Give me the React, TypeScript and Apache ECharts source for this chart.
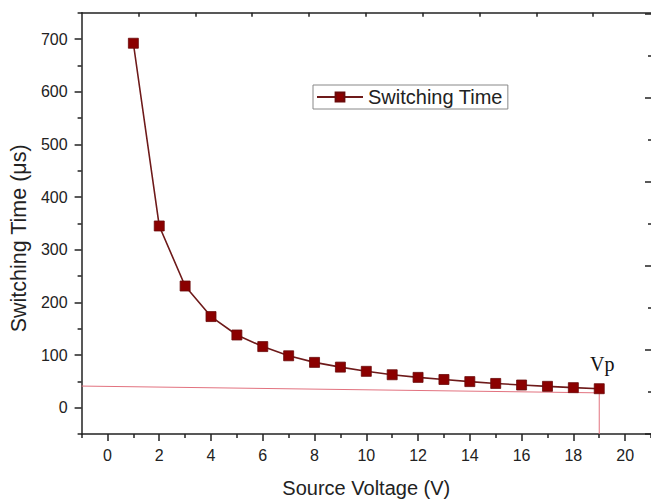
import React, { useEffect, useRef } from "react";
import * as echarts from "echarts";

const voltages = [1, 2, 3, 4, 5, 6, 7, 8, 9, 10, 11, 12, 13, 14, 15, 16, 17, 18, 19];
const switchingTimes = [692, 345, 231, 173, 138, 116, 98.5, 86, 77, 69, 62.5, 57.5, 53.5, 49.5, 46, 43, 40.5, 38, 36];
const refHorizontal = [[-1, 41], [19.2, 28]];
const refVertical = [[19, 28], [19, -50]];
const xMajorTicks = [0, 2, 4, 6, 8, 10, 12, 14, 16, 18, 20];
const xMinorTicks = [-1, 1, 3, 5, 7, 9, 11, 13, 15, 17, 19, 21];
const yMajorTicks = [0, 100, 200, 300, 400, 500, 600, 700];
const yMinorTicks = [-50, 50, 150, 250, 350, 450, 550, 650, 750];
const topTicks = [0, 1, 2, 3, 4, 5, 6, 7, 8];
const rightMajorTicks = [0, 2, 4, 6, 8, 10];
const rightMinorTicks = [1, 3, 5, 7, 9];

const FONT = "Liberation Sans, Arial, sans-serif";
const AXIS_COLOR = "#222";

export default function App() {
  const ref = useRef<HTMLDivElement>(null);
  useEffect(() => {
    if (!ref.current) return;
    const chart = echarts.init(ref.current, null, { renderer: "svg" });
    const hidden = { show: false };
    const data = voltages.map((v, i) => {
      const item: any = { value: [v, switchingTimes[i]] };
      if (i === voltages.length - 1) {
        item.label = {
          show: true,
          formatter: "Vp",
          position: "top",
          distance: 9,
          offset: [3, 0],
          fontFamily: "Liberation Serif, Times New Roman, serif",
          fontSize: 20,
          color: "#111",
        };
      }
      return item;
    });
    chart.setOption({
      animation: false,
      backgroundColor: "#fff",
      grid: { left: 78, right: -2, top: 12.7, bottom: 63, containLabel: false },
      legend: {
        data: ["Switching Time"],
        left: 313,
        top: 85,
        orient: "horizontal",
        itemWidth: 46,
        itemHeight: 11,
        padding: [2, 5, 2, 3],
        borderColor: "#888",
        borderWidth: 1,
        textStyle: { fontFamily: FONT, fontSize: 20, color: "#222" },
      },
      xAxis: [
        {
          type: "value",
          position: "bottom",
          min: -1,
          max: 21,
          name: "Source Voltage (V)",
          nameLocation: "middle",
          nameGap: 44,
          nameTextStyle: { fontFamily: FONT, fontSize: 20, color: "#222" },
          axisLine: { show: true, onZero: false, lineStyle: { color: AXIS_COLOR, width: 1.5 } },
          axisTick: { show: true, inside: false, length: 7, customValues: xMajorTicks, lineStyle: { color: AXIS_COLOR, width: 1.5 } },
          axisLabel: { show: true, customValues: xMajorTicks, margin: 13, fontFamily: FONT, fontSize: 16, color: "#222" },
          splitLine: hidden,
        },
        {
          type: "value",
          position: "bottom",
          min: -1,
          max: 21,
          axisLine: { show: false, onZero: false },
          axisTick: { show: true, inside: false, length: 4, customValues: xMinorTicks, lineStyle: { color: AXIS_COLOR, width: 1.5 } },
          axisLabel: hidden,
          splitLine: hidden,
        },
        {
          type: "value",
          position: "top",
          min: -1,
          max: 9.017,
          axisLine: { show: true, onZero: false, lineStyle: { color: AXIS_COLOR, width: 1.5 } },
          axisTick: { show: true, inside: true, length: 4, customValues: topTicks, lineStyle: { color: AXIS_COLOR, width: 1.5 } },
          axisLabel: hidden,
          splitLine: hidden,
        },
      ],
      yAxis: [
        {
          type: "value",
          position: "left",
          min: -50,
          max: 750,
          name: "Switching Time (μs)",
          nameLocation: "middle",
          nameGap: 50,
          nameTextStyle: { fontFamily: FONT, fontSize: 21.5, color: "#222", padding: [0, 30, 0, 0] },
          axisLine: { show: true, onZero: false, lineStyle: { color: AXIS_COLOR, width: 1.5 } },
          axisTick: { show: true, inside: false, length: 7, customValues: yMajorTicks, lineStyle: { color: AXIS_COLOR, width: 1.5 } },
          axisLabel: { show: true, customValues: yMajorTicks, margin: 14, fontFamily: FONT, fontSize: 16, color: "#222" },
          splitLine: hidden,
        },
        {
          type: "value",
          position: "left",
          min: -50,
          max: 750,
          axisLine: { show: false, onZero: false },
          axisTick: { show: true, inside: false, length: 4, customValues: yMinorTicks, lineStyle: { color: AXIS_COLOR, width: 1.5 } },
          axisLabel: hidden,
          splitLine: hidden,
        },
        {
          type: "value",
          position: "right",
          min: 0,
          max: 10.03,
          axisLine: { show: false, onZero: false },
          axisTick: { show: true, inside: true, length: 6, customValues: rightMajorTicks, lineStyle: { color: AXIS_COLOR, width: 1.5 } },
          axisLabel: hidden,
          splitLine: hidden,
        },
        {
          type: "value",
          position: "right",
          min: 0,
          max: 10.03,
          axisLine: { show: false, onZero: false },
          axisTick: { show: true, inside: true, length: 3, customValues: rightMinorTicks, lineStyle: { color: AXIS_COLOR, width: 1.5 } },
          axisLabel: hidden,
          splitLine: hidden,
        },
      ],
      series: [
        {
          name: "refH",
          type: "line",
          xAxisIndex: 0,
          yAxisIndex: 0,
          data: refHorizontal,
          symbol: "none",
          lineStyle: { color: "#e2727f", width: 1 },
          silent: true,
          z: 1,
        },
        {
          name: "refV",
          type: "line",
          xAxisIndex: 0,
          yAxisIndex: 0,
          data: refVertical,
          symbol: "none",
          lineStyle: { color: "#e2727f", width: 1 },
          silent: true,
          z: 1,
        },
        {
          name: "Switching Time",
          type: "line",
          xAxisIndex: 0,
          yAxisIndex: 0,
          data,
          symbol: "rect",
          symbolSize: 10,
          lineStyle: { color: "#6e1a1a", width: 1.6 },
          itemStyle: { color: "#8b0000", borderColor: "#6a0a0a", borderWidth: 0.8 },
          z: 3,
        },
      ],
    });
    return () => chart.dispose();
  }, []);
  return (
    <div
      ref={ref}
      style={{ position: "absolute", left: 0, top: 0, width: 651, height: 503 }}
    />
  );
}
